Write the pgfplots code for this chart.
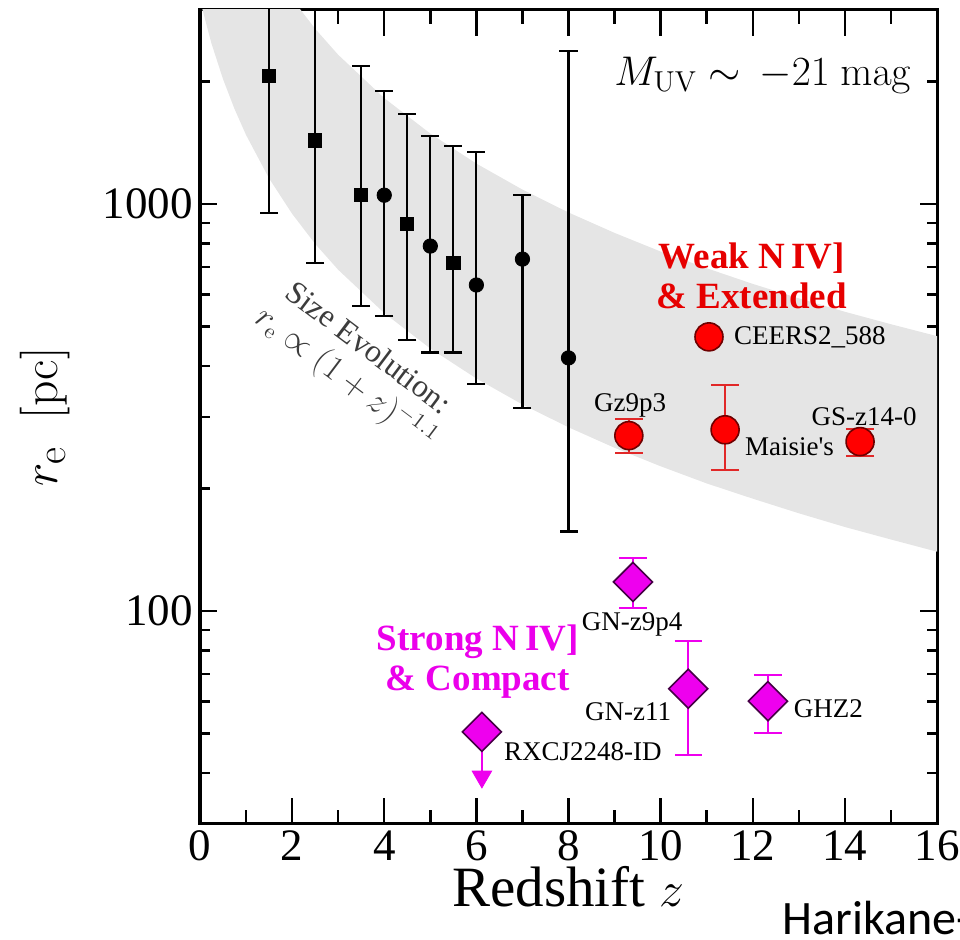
\documentclass[border=0pt]{standalone}
\usepackage[no-math]{fontspec}
\setmainfont{Liberation Serif}
\newfontfamily\carlito{Carlito}
\usepackage{pgfplots}
\pgfplotsset{compat=1.18}
\definecolor{band}{RGB}{229,229,229}
\definecolor{ptred}{RGB}{255,0,0}
\definecolor{darkred}{RGB}{110,0,0}
\definecolor{errred}{RGB}{225,40,40}
\definecolor{ptmag}{RGB}{238,0,238}
\definecolor{darkmag}{RGB}{70,0,70}
\definecolor{txtmag}{RGB}{235,0,235}
\definecolor{txtred}{RGB}{230,0,0}
\definecolor{evo}{RGB}{60,60,60}
\begin{document}
\begin{tikzpicture}[x=1pt,y=1pt]
\useasboundingbox (0,0) rectangle (480,470);
% y ticks axis
\begin{axis}[
  at={(100pt,58pt)}, anchor=south west,
  scale only axis, width=368.5pt, height=407pt,
  xmin=0, xmax=16, ymin=30, ymax=3000, ymode=log,
  axis line style={line width=1.5pt},
  every tick/.style={black, line width=1.2pt},
  tick align=inside,
  ticklabel style={font=\fontsize{22.5}{26}\selectfont},
  /pgf/number format/assume math mode=true,
  xtick=\empty,
  ytick={100,1000}, yticklabels={100,1000},
  minor ytick={40,50,60,70,80,90,200,300,400,500,600,700,800,900,2000},
  major tick length=8.5pt, minor tick length=5pt,
  ylabel={$r_{\mathrm{e}}\;\;[\mathrm{pc}]$},
  ylabel style={at={(axis description cs:-0.21,0.50)}, anchor=center, font=\fontsize{31}{35}\selectfont},
]
\end{axis}
% main axis
\begin{axis}[
  at={(100pt,58pt)}, anchor=south west,
  scale only axis, width=368.5pt, height=407pt,
  xmin=0, xmax=16, ymin=30, ymax=3000, ymode=log,
  axis line style={line width=1.5pt},
  every tick/.style={black, line width=1.2pt},
  tick align=inside,
  ticklabel style={font=\fontsize{22.5}{26}\selectfont},
  /pgf/number format/assume math mode=true,
  ytick=\empty,
  xtick={0,2,4,6,8,10,12,14,16}, xticklabels={0,2,4,6,8,10,12,14,16},
  minor xtick={1,3,5,7,9,11,13,15},
  major tick length=13pt, minor tick length=7pt,
  xlabel={Redshift\ $z$},
  xlabel style={at={(axis description cs:0.5,-0.077)}, anchor=center, font=\fontsize{28.5}{32}\selectfont},
]
% size-evolution band
\addplot[fill=band, draw=none] coordinates {
 (0,10700) (0.25,8371) (0.5,6848) (0.75,5781) (1,4992) (1.5,3906) (2,3196) (2.5,2697) (3,2328)
 (4,1822) (5,1491) (6,1258) (7,1086) (8,954) (9,850) (10,765) (11,696) (12,637) (13,587)
 (14,544) (15,507) (16,474)
 (16,140) (15,150) (14,161) (13,174) (12,189) (11,206) (10,227) (9,252) (8,283) (7,322)
 (6,373) (5,442) (4,540) (3,690) (2.5,799) (2,947) (1.5,1157) (1,1479) (0.75,1713)
 (0.5,2029) (0.25,2480) (0,3170)
} -- cycle;
% black squares
\addplot[black, only marks, mark=square*, mark size=3.3pt,
  error bars/.cd, y dir=both, y explicit,
  error bar style={line width=1.1pt, black},
  error mark options={rotate=90, line width=1.1pt, mark size=4.5pt, black}]
coordinates {
 (1.5,2070) += (0,2930) -= (0,1120)
 (2.5,1435) += (0,3565) -= (0,718)
 (3.5,1052) += (0,1138) -= (0,490)
 (4.5,893)  += (0,769)  -= (0,429)
 (5.5,717)  += (0,671)  -= (0,285)
};
% black circles
\addplot[black, only marks, mark=*, mark size=3.6pt,
  error bars/.cd, y dir=both, y explicit,
  error bar style={line width=1.1pt, black},
  error mark options={rotate=90, line width=1.1pt, mark size=4.5pt, black}]
coordinates {
 (4,1052) += (0,848)  -= (0,521)
 (5,789)  += (0,679)  -= (0,357)
 (6,633)  += (0,708)  -= (0,271)
 (7,733)  += (0,319)  -= (0,417)
 (8,419)  += (0,1964) -= (0,262)
};
% red error bars
\addplot[only marks, mark=none,
  error bars/.cd, y dir=both, y explicit,
  error bar style={line width=1pt, errred},
  error mark options={rotate=90, line width=1pt, mark size=7pt, errred}]
coordinates {
 (9.31,270)  += (0,26) -= (0,25)
 (11.40,279) += (0,81) -= (0,57)
 (14.33,261) += (0,20) -= (0,21)
};
% red circles
\addplot[only marks, mark=*, mark size=7pt,
  mark options={fill=ptred, draw=darkred, line width=0.8pt}]
coordinates {(9.31,270) (11.05,472) (11.40,279) (14.33,261)};
% magenta error bars
\addplot[only marks, mark=none,
  error bars/.cd, y dir=both, y explicit,
  error bar style={line width=1pt, ptmag},
  error mark options={rotate=90, line width=1pt, mark size=6.8pt, ptmag}]
coordinates {
 (9.40,118)  += (0,17)   -= (0,16)
 (10.6,64.5) += (0,19.9) -= (0,20.1)
 (12.33,60.1) += (0,9.6) -= (0,9.9)
};
% upper limit arrow for RXCJ2248-ID
\addplot[only marks, mark=none,
  error bars/.cd, y dir=minus, y explicit, error mark=none,
  error bar style={line width=1.2pt, ptmag}]
coordinates {(6.12,50.5) -= (0,11.3)};
\addplot[only marks, mark=triangle*, mark size=5.6pt,
  mark options={rotate=180, fill=ptmag, draw=ptmag}]
coordinates {(6.12,39.2)};
% magenta diamonds
\addplot[only marks, mark=square*, mark size=6.9pt,
  mark options={rotate=45, fill=ptmag, draw=darkmag, line width=0.8pt}]
coordinates {(9.40,118) (10.6,64.5) (12.33,60.1) (6.12,50.5)};
% annotations
\node[anchor=east, font=\fontsize{21}{25}\selectfont] at (axis cs:15.59,2070) {$M_{\mathrm{UV}}\sim\,-21\ \mathrm{mag}$};
\node[rotate=-37, align=center, text=evo, font=\fontsize{16}{19}\selectfont] at (axis cs:3.37,401)
  {Size Evolution:\\ $r_{\mathrm{e}}\propto(1+z)^{-1.1}$};
\node[align=center, text=txtred, font=\bfseries\fontsize{18.5}{20}\selectfont] at (axis cs:11.98,667)
  {Weak N\,IV]\\ \& Extended};
\node[align=center, text=txtmag, font=\bfseries\fontsize{18.5}{20}\selectfont] at (axis cs:6.03,75.4)
  {Strong N\,IV]\\ \& Compact};
\node[anchor=west, font=\fontsize{13.5}{15}\selectfont] at (axis cs:11.44,472) {CEERS2\_588};
\node[font=\fontsize{13.5}{15}\selectfont] at (axis cs:9.34,321) {Gz9p3};
\node[anchor=west, font=\fontsize{13.5}{15}\selectfont] at (axis cs:11.68,254) {\addfontfeatures{Ligatures=TeXOff}Maisie's};
\node[font=\fontsize{13.5}{15}\selectfont] at (axis cs:14.42,301) {GS-z14-0};
\node[font=\fontsize{13.5}{15}\selectfont] at (axis cs:9.38,92.9) {GN-z9p4};
\node[anchor=east, font=\fontsize{13.5}{15}\selectfont] at (axis cs:10.38,56.5) {GN-z11};
\node[anchor=west, font=\fontsize{13.5}{15}\selectfont] at (axis cs:12.74,57.5) {GHZ2};
\node[anchor=west, font=\fontsize{13.5}{15}\selectfont] at (axis cs:6.45,45.1) {RXCJ2248-ID};
\end{axis}
\node[anchor=base west, font=\carlito\fontsize{24}{28}\selectfont, inner sep=0pt] at (391,2.5) {Harikane-};
\end{tikzpicture}
\end{document}
